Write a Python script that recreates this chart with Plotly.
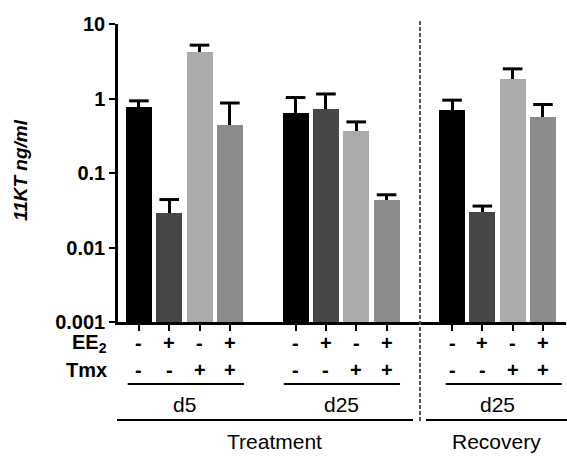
import plotly.graph_objects as go

# ---- data ----
groups = ["d5", "d25", "d25"]
phases = ["Treatment", "Recovery"]
ee2_signs = ["-", "+", "-", "+"]
tmx_signs = ["-", "-", "+", "+"]
means = [0.77, 0.029, 4.2, 0.44,
         0.64, 0.73, 0.37, 0.043,
         0.70, 0.030, 1.83, 0.57]
upper = [0.93, 0.044, 5.2, 0.87,
         1.03, 1.15, 0.485, 0.051,
         0.95, 0.036, 2.5, 0.83]
bar_colors = ["#000000", "#474747", "#ababab", "#8b8b8b"]
ytick_vals = [0.001, 0.01, 0.1, 1, 10]
ytick_text = ["0.001", "0.01", "0.1", "1", "10"]

# ---- layout helpers ----
W, H = 567, 457
ML, MR, MT, MB = 118, 1, 24, 135
group_offsets = [0, 5.17, 10.33]
xs = [g + i for g in group_offsets for i in range(4)]
XMIN, XMAX = -0.69, 14.09
plot_w = W - ML - MR
plot_h = H - MT - MB


def px2paper_x(px):
    return (px - ML) / plot_w


def px2paper_y(py):
    return (H - MB - py) / plot_h


def data2paper_x(x):
    return (x - XMIN) / (XMAX - XMIN)


fig = go.Figure()
colors = [bar_colors[i % 4] for i in range(len(means))]
fig.add_trace(go.Bar(
    x=xs, y=means, width=0.86,
    marker=dict(color=colors, line=dict(width=0)),
    error_y=dict(type="data", symmetric=False,
                 array=[u - m for u, m in zip(upper, means)],
                 arrayminus=[0] * len(means),
                 width=0, thickness=3, color="black"),
    showlegend=False,
))
fig.add_trace(go.Scatter(
    x=xs, y=upper, mode="markers",
    marker=dict(symbol="line-ew", size=14, line=dict(width=3, color="black")),
    showlegend=False, hoverinfo="skip",
))

BOLD = dict(family="Liberation Sans, Arial", size=20, color="black", weight="bold")
REG = dict(family="Liberation Sans, Arial", size=21, color="black")

annotations = []
shapes = []
y_ee = px2paper_y(343)
y_tmx = px2paper_y(370)
for i, x in enumerate(xs):
    annotations.append(dict(x=x, y=y_ee, xref="x", yref="paper", text=ee2_signs[i % 4],
                            showarrow=False, font=BOLD, xanchor="center", yanchor="middle"))
    annotations.append(dict(x=x, y=y_tmx, xref="x", yref="paper", text=tmx_signs[i % 4],
                            showarrow=False, font=BOLD, xanchor="center", yanchor="middle"))
annotations.append(dict(x=px2paper_x(109), y=y_ee, xref="paper", yref="paper",
                        text="EE<sub>2</sub>", showarrow=False, font=BOLD,
                        xanchor="right", yanchor="middle"))
annotations.append(dict(x=px2paper_x(109), y=y_tmx, xref="paper", yref="paper",
                        text="Tmx", showarrow=False, font=BOLD,
                        xanchor="right", yanchor="middle"))

# group lines and labels
group_spans = [(-0.37, 0.47), (-0.39, 0.44), (-0.21, 0.62)]
y_gline = px2paper_y(384)
y_glabel = px2paper_y(404)
for gi, g in enumerate(groups):
    off = group_offsets[gi]
    a, b = group_spans[gi]
    shapes.append(dict(type="line", xref="paper", yref="paper",
                       x0=data2paper_x(off + a), x1=data2paper_x(off + 3 + b),
                       y0=y_gline, y1=y_gline, line=dict(color="black", width=2)))
    annotations.append(dict(x=off + 1.5, y=y_glabel, xref="x", yref="paper", text=g,
                            showarrow=False, font=REG, xanchor="center", yanchor="middle"))

# phase lines and labels
y_pline = px2paper_y(420)
y_plabel = px2paper_y(442)
shapes.append(dict(type="line", xref="paper", yref="paper",
                   x0=px2paper_x(117), x1=px2paper_x(413), y0=y_pline, y1=y_pline,
                   line=dict(color="black", width=2)))
shapes.append(dict(type="line", xref="paper", yref="paper",
                   x0=px2paper_x(426), x1=px2paper_x(567), y0=y_pline, y1=y_pline,
                   line=dict(color="black", width=2)))
annotations.append(dict(x=px2paper_x(274), y=y_plabel, xref="paper", yref="paper",
                        text=phases[0], showarrow=False, font=REG,
                        xanchor="center", yanchor="middle"))
annotations.append(dict(x=px2paper_x(496), y=y_plabel, xref="paper", yref="paper",
                        text=phases[1], showarrow=False, font=REG,
                        xanchor="center", yanchor="middle"))

# dashed separator
shapes.append(dict(type="line", xref="paper", yref="paper",
                   x0=px2paper_x(420), x1=px2paper_x(420),
                   y0=px2paper_y(21), y1=px2paper_y(421),
                   line=dict(color="#555555", width=2, dash="4px,2px")))

# y-axis title
annotations.append(dict(x=px2paper_x(20), y=px2paper_y(170), xref="paper", yref="paper",
                        text="<b><i>11KT ng/ml</i></b>", textangle=-90, showarrow=False,
                        font=dict(family="Liberation Sans, Arial", size=19, color="black"),
                        xanchor="center", yanchor="middle"))

fig.update_layout(
    width=W, height=H,
    margin=dict(l=ML, r=MR, t=MT, b=MB, pad=0),
    paper_bgcolor="white", plot_bgcolor="white",
    xaxis=dict(range=[XMIN, XMAX], showgrid=False, zeroline=False,
               showline=True, linecolor="black", linewidth=2.5,
               tickmode="array", tickvals=xs, showticklabels=False,
               ticks="outside", ticklen=6, tickwidth=2, tickcolor="black"),
    yaxis=dict(type="log", range=[-3, 1], showgrid=False, zeroline=False,
               showline=True, linecolor="black", linewidth=2.5,
               tickmode="array", tickvals=ytick_vals, ticktext=ytick_text,
               ticks="outside", ticklen=6, tickwidth=2, tickcolor="black",
               tickfont=BOLD),
    annotations=annotations, shapes=shapes,
    bargap=0,
)

fig.write_html("out.html", config={"displayModeBar": False},
               post_script="document.body.style.margin='0px';document.body.style.overflow='hidden';")
